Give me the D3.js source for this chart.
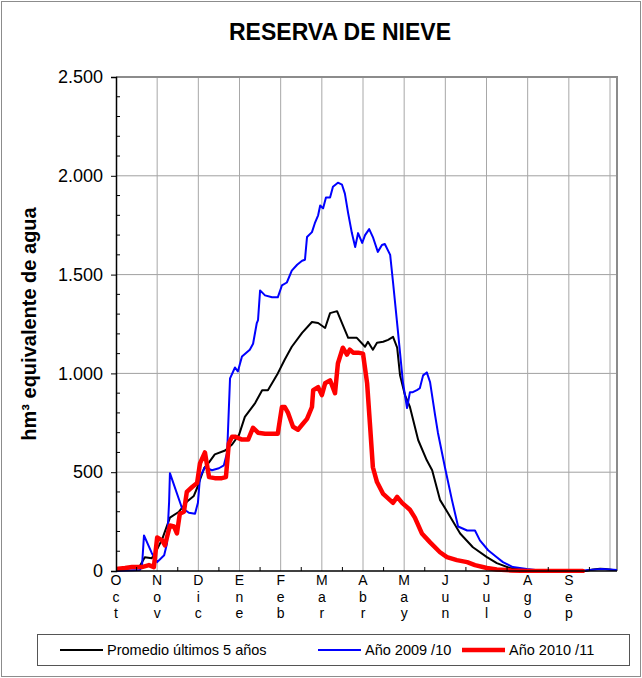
<!DOCTYPE html>
<html>
<head>
<meta charset="utf-8">
<script src="https://cdn.jsdelivr.net/npm/d3@7"></script>
<style>
body { margin: 0; background: #fff; }
text { font-family: Arial, "Liberation Sans", sans-serif; }
</style>
</head>
<body>
<div id="chart"></div>
<script>
// month labels (written vertically under each month start)
var meses = [["O","c","t"],["N","o","v"],["D","i","c"],["E","n","e"],["F","e","b"],["M","a","r"],
             ["A","b","r"],["M","a","y"],["J","u","n"],["J","u","l"],["A","g","o"],["S","e","p"]];
var yTicks = [0, 500, 1000, 1500, 2000, 2500];

// [month position from 1 Oct, hm3]
var promedio = [[0,0],[0.34,15],[0.58,25],[0.70,70],[0.87,65],[0.95,90],[1.12,160],[1.31,270],[1.53,300],
  [1.72,350],[1.89,380],[1.97,420],[2.14,520],[2.26,550],[2.40,590],[2.65,610],[2.82,640],[2.99,690],
  [3.13,780],[3.38,850],[3.55,915],[3.69,915],[3.93,1000],[4.10,1070],[4.27,1135],[4.52,1205],[4.76,1260],
  [4.91,1255],[5.08,1230],[5.20,1305],[5.37,1315],[5.49,1255],[5.64,1180],[5.85,1180],[6.05,1135],
  [6.12,1160],[6.24,1120],[6.34,1155],[6.49,1160],[6.61,1170],[6.73,1185],[6.83,1130],[6.90,990],
  [7.02,890],[7.14,830],[7.34,663],[7.55,560],[7.68,510],[7.87,360],[8.06,295],[8.36,190],[8.67,120],
  [9.01,70],[9.25,40],[9.57,15],[9.93,5],[10.3,0],[11.4,0],[11.59,8],[11.76,12],[11.88,10],[12.07,5],[12.17,5]];

var anio0910 = [[0,0],[0.58,5],[0.63,20],[0.68,180],[0.87,90],[1.00,45],[1.17,80],[1.24,140],[1.29,350],
  [1.31,495],[1.60,320],[1.77,295],[1.92,290],[1.99,345],[2.04,475],[2.16,525],[2.33,510],[2.50,520],
  [2.62,535],[2.70,600],[2.77,975],[2.89,1030],[2.96,1010],[3.06,1085],[3.25,1120],[3.33,1150],[3.42,1255],
  [3.45,1270],[3.50,1420],[3.62,1395],[3.79,1385],[3.93,1385],[4.03,1445],[4.15,1460],[4.27,1520],
  [4.40,1550],[4.52,1570],[4.59,1575],[4.64,1690],[4.76,1715],[4.83,1760],[4.91,1800],[4.96,1850],
  [5.03,1835],[5.10,1890],[5.20,1890],[5.27,1945],[5.39,1965],[5.49,1955],[5.56,1910],[5.64,1810],
  [5.73,1710],[5.81,1640],[5.88,1710],[5.98,1660],[6.05,1700],[6.15,1730],[6.24,1690],[6.36,1615],
  [6.46,1650],[6.53,1655],[6.66,1600],[6.73,1460],[6.85,1210],[6.97,955],[7.07,825],[7.14,905],[7.21,905],
  [7.31,915],[7.38,925],[7.46,990],[7.55,1005],[7.63,955],[7.75,790],[7.82,700],[7.99,525],[8.16,360],
  [8.31,225],[8.53,205],[8.72,205],[8.84,155],[9.04,105],[9.25,70],[9.40,45],[9.64,20],[9.98,10],[10.3,3],
  [11.27,0],[11.5,5],[11.8,10],[12.0,8],[12.17,5]];

var anio1011 = [[0,10],[0.22,15],[0.39,20],[0.63,20],[0.80,30],[0.92,20],[1.00,170],[1.12,155],[1.19,130],
  [1.31,230],[1.41,225],[1.48,190],[1.55,290],[1.65,300],[1.72,400],[1.85,425],[1.97,445],[2.04,545],
  [2.16,600],[2.26,475],[2.40,470],[2.57,470],[2.67,475],[2.74,645],[2.82,680],[2.89,680],[3.06,665],
  [3.21,665],[3.33,725],[3.45,700],[3.62,695],[3.93,695],[4.03,830],[4.10,830],[4.18,800],[4.30,730],
  [4.42,715],[4.54,745],[4.64,770],[4.76,830],[4.79,915],[4.91,930],[5.00,890],[5.08,950],[5.20,965],
  [5.32,900],[5.39,1050],[5.51,1130],[5.61,1095],[5.68,1120],[5.76,1105],[5.88,1105],[6.00,1100],
  [6.10,950],[6.17,740],[6.24,525],[6.34,450],[6.49,390],[6.73,345],[6.83,375],[6.95,345],[7.14,310],
  [7.26,270],[7.43,190],[7.63,145],[7.87,95],[8.04,70],[8.28,55],[8.53,45],[8.72,30],[9.01,15],[9.25,8],
  [9.6,3],[10.0,0],[11.34,0]];

var series = [
  {name: "Promedio últimos 5 años", data: promedio, color: "#000000", width: 2},
  {name: "Año 2009 /10", data: anio0910, color: "#0000ff", width: 2},
  {name: "Año 2010 /11", data: anio1011, color: "#ff0000", width: 4.5}
];

function init() {
  var w = 642, h = 678;
  var left = 116, right = 617, top = 77, bottom = 571;

  var svg = d3.select("#chart").append("svg").attr("width", w).attr("height", h);

  // outer frame
  svg.append("rect").attr("x", 1.5).attr("y", 1.5).attr("width", w - 3).attr("height", h - 3)
    .attr("fill", "none").attr("stroke", "#8c8c8c");

  var x = d3.scaleLinear().domain([0, 12.17]).range([left, right]);
  var y = d3.scaleLinear().domain([0, 2500]).range([bottom, top]);
  var fmt = d3.formatLocale({decimal: ",", thousands: ".", grouping: [3], currency: ["", ""]}).format(",");

  // title
  svg.append("text").attr("x", 340).attr("y", 40).attr("text-anchor", "middle")
    .style("font-size", "23px").style("font-weight", "bold").text("RESERVA DE NIEVE");

  // grid
  svg.append("g").selectAll("line").data(yTicks.slice(1, -1)).enter().append("line")
    .attr("x1", left).attr("x2", right).attr("y1", d => y(d)).attr("y2", d => y(d))
    .attr("stroke", "#a0a0a0").attr("stroke-width", 1);
  svg.append("g").selectAll("line").data(d3.range(1, 13)).enter().append("line")
    .attr("x1", d => x(d)).attr("x2", d => x(d)).attr("y1", top).attr("y2", bottom)
    .attr("stroke", "#a8a8a8").attr("stroke-width", 1);

  // top / right border
  svg.append("path").attr("d", "M" + left + "," + top + "H" + right + "V" + bottom)
    .attr("fill", "none").attr("stroke", "#8c8c8c").attr("stroke-width", 2);

  // lines
  var line = d3.line().x(d => x(d[0])).y(d => y(d[1]));
  svg.append("defs").append("clipPath").attr("id", "clip").append("rect")
    .attr("x", left).attr("y", top).attr("width", right - left).attr("height", bottom - top + 2);
  svg.append("g").attr("clip-path", "url(#clip)").selectAll("path").data(series).enter().append("path")
    .attr("d", d => line(d.data)).attr("fill", "none")
    .attr("stroke", d => d.color).attr("stroke-width", d => d.width)
    .attr("stroke-linejoin", "round").attr("stroke-linecap", "round");

  // y axis
  var yAxis = d3.axisLeft(y).tickValues(yTicks).tickSize(5).tickPadding(8).tickFormat(fmt);
  var gy = svg.append("g").attr("transform", "translate(" + left + ",0)").call(yAxis);
  gy.select(".domain").attr("stroke", "#000").attr("stroke-width", 1.5);
  gy.selectAll("text").style("font-size", "18px").attr("fill", "#000");
  svg.append("g").selectAll("line").data(d3.range(100, 2500, 100).filter(d => d % 500)).enter().append("line")
    .attr("x1", left).attr("x2", left + 4).attr("y1", d => y(d)).attr("y2", d => y(d))
    .attr("stroke", "#000");

  // x axis
  svg.append("line").attr("x1", left).attr("x2", right).attr("y1", bottom).attr("y2", bottom)
    .attr("stroke", "#000").attr("stroke-width", 1.5);
  svg.append("g").selectAll("line").data(d3.range(0.5, 12, 1)).enter().append("line")
    .attr("x1", d => x(d)).attr("x2", d => x(d)).attr("y1", bottom).attr("y2", bottom - 4)
    .attr("stroke", "#000");
  var gx = svg.append("g").selectAll("text").data(meses).enter().append("text")
    .attr("x", (d, i) => x(i)).attr("y", bottom + 14)
    .attr("text-anchor", "middle").style("font-size", "14px");
  gx.selectAll("tspan").data(d => d).enter().append("tspan")
    .attr("x", function () { return this.parentNode.getAttribute("x"); })
    .attr("dy", (d, i) => i === 0 ? 0 : 16.5).text(d => d);

  // y label
  svg.append("text").attr("transform", "translate(36," + (top + bottom) / 2 + ") rotate(-90)")
    .attr("text-anchor", "middle").style("font-size", "20px").style("font-weight", "bold")
    .text("hm³ equivalente de agua");

  // legend
  svg.append("rect").attr("x", 37.5).attr("y", 634.5).attr("width", 592).attr("height", 31)
    .attr("fill", "#fff").attr("stroke", "#555");
  var legX = [60, 318, 462];
  var leg = svg.append("g").selectAll("g").data(series).enter().append("g")
    .attr("transform", (d, i) => "translate(" + legX[i] + ",650)");
  leg.append("line").attr("x1", 0).attr("x2", 43).attr("stroke", d => d.color).attr("stroke-width", d => d.width);
  leg.append("text").attr("x", 47).attr("dy", "0.35em").style("font-size", "14.5px").text(d => d.name);
}
window.onload = init;
</script>
</body>
</html>
